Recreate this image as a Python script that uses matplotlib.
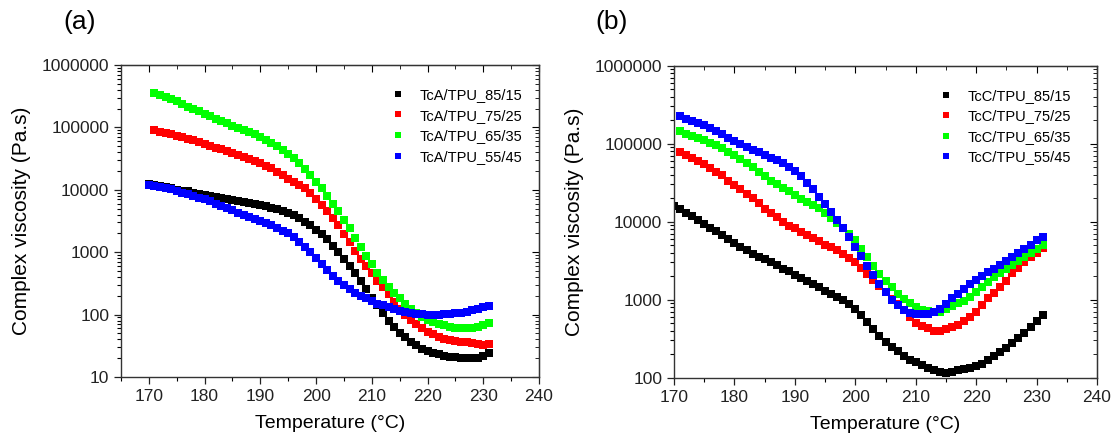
import numpy as np
import matplotlib
matplotlib.use("Agg")
import matplotlib.pyplot as plt
from matplotlib.ticker import FixedLocator, LogLocator, NullFormatter, MultipleLocator

plt.rcParams['font.family'] = ['Liberation Sans', 'DejaVu Sans']

# ---- panel (a): TcA/TPU blends ----
temp_a_long = np.arange(170, 232)   # black, blue
temp_a_short = np.arange(171, 232)  # red, green

tca_85_15 = [12500, 12000, 11400, 10900, 10500, 10100, 9700, 9400, 9000, 8700,
             8400, 8100, 7700, 7400, 7100, 6900, 6700, 6400, 6200, 6000,
             5700, 5500, 5200, 4900, 4600, 4300, 3900, 3500, 3100, 2700,
             2300, 1950, 1600, 1280, 1000, 780, 600, 460, 350, 255,
             185, 140, 105, 80, 63, 51, 43, 37, 32, 28,
             26, 24, 23, 22, 21, 21, 20.5, 20, 20, 20,
             22, 24]
tca_75_25 = [90000, 85000, 80000, 77000, 73000, 69000, 66000, 62000, 58000, 54000,
             51000, 47500, 45000, 42000, 39000, 36500, 34000, 31500, 29000, 26500,
             24000, 22000, 19500, 17000, 15000, 13500, 12000, 10500, 8800, 7200,
             5800, 4600, 3500, 2700, 1950, 1450, 1050, 780, 600, 460,
             350, 275, 210, 160, 122, 98, 82, 70, 60, 53,
             48, 44, 41, 39, 38, 37, 36, 35, 34, 33,
             34]
tca_65_35 = [360000, 335000, 310000, 285000, 262000, 240000, 215000, 196000, 180000, 165000,
             150000, 138000, 127000, 117000, 107000, 98000, 90000, 83000, 77000, 70000,
             63000, 57000, 50000, 43000, 37000, 32000, 27000, 21500, 17000, 13500,
             10500, 8000, 6000, 4500, 3300, 2400, 1700, 1200, 870, 640,
             470, 360, 280, 225, 182, 150, 125, 106, 93, 83,
             76, 71, 67, 64, 62, 61, 61, 62, 64, 67,
             72]
tca_55_45 = [12000, 11700, 11200, 10700, 10200, 9600, 9000, 8500, 8000, 7500,
             7000, 6500, 6000, 5500, 5100, 4700, 4300, 4000, 3700, 3400,
             3150, 2900, 2700, 2450, 2200, 2000, 1750, 1480, 1230, 990,
             800, 640, 510, 415, 350, 300, 260, 225, 200, 182,
             165, 150, 140, 130, 122, 116, 111, 107, 104, 102,
             100, 100, 100, 101, 103, 105, 108, 112, 117, 124,
             132, 137]

# ---- panel (b): TcC/TPU blends ----
temp_b_long = np.arange(170, 232)   # black
temp_b_short = np.arange(171, 232)  # red, green, blue

tcc_85_15 = [16000, 14500, 13000, 11800, 10500, 9300, 8300, 7500, 6700, 6000,
             5400, 4800, 4300, 3900, 3500, 3300, 3000, 2750, 2500, 2300,
             2100, 1900, 1750, 1600, 1450, 1300, 1180, 1090, 980, 870,
             760, 640, 520, 420, 340, 290, 250, 220, 190, 170,
             158, 145, 133, 124, 118, 116, 120, 124, 128, 134,
             142, 152, 170, 190, 215, 240, 280, 320, 375, 450,
             540, 630]
tcc_75_25 = [78000, 71000, 65000, 60000, 55000, 49000, 44000, 40000, 33000, 29500,
             26000, 22500, 20000, 17500, 14500, 13000, 11500, 9800, 8900, 8200,
             7400, 6700, 6100, 5600, 5100, 4700, 4300, 3900, 3400, 3050,
             2550, 2150, 1800, 1480, 1250, 1020, 870, 730, 600, 510,
             460, 430, 400, 395, 420, 450, 480, 530, 600, 700,
             860, 1050, 1230, 1450, 1750, 2200, 2550, 3000, 3500, 4000,
             4600]
tcc_65_35 = [145000, 135000, 127000, 118000, 110000, 102000, 95000, 87000, 79000, 71000,
             63000, 56000, 50000, 44000, 38000, 33500, 30000, 27000, 24500, 22000,
             19800, 18000, 16300, 15000, 13000, 11000, 9500, 8200, 7000, 5800,
             4500, 3500, 2700, 2150, 1750, 1450, 1200, 1020, 900, 800,
             740, 710, 700, 705, 760, 830, 900, 970, 1080, 1250,
             1450, 1700, 1950, 2200, 2500, 2800, 3100, 3500, 4000, 4500,
             5000]
tcc_55_45 = [225000, 210000, 196000, 183000, 172000, 158000, 145000, 133000, 120000, 108000,
             98000, 90000, 84000, 78000, 72000, 66000, 61000, 56000, 51000, 45000,
             38000, 31500, 26000, 21000, 17000, 13500, 10500, 8300, 6300, 4800,
             3600, 2700, 2050, 1580, 1250, 1000, 850, 740, 680, 660,
             650, 650, 690, 770, 880, 1050, 1200, 1380, 1570, 1780,
             2000, 2250, 2500, 2800, 3150, 3550, 4000, 4500, 5100, 5800,
             6400]

colors = ['#000000', '#ff0000', '#00ff00', '#0000ff']

fig = plt.figure(figsize=(11.13, 4.40), dpi=100)
ax_a = fig.add_axes([0.1087, 0.1432, 0.3756, 0.7091])
ax_b = fig.add_axes([0.6056, 0.1416, 0.3800, 0.7091])


def style_axis(ax, ymin, ymax, xmin, xmax):
    ax.set_yscale('log')
    ax.set_ylim(ymin, ymax)
    ax.set_xlim(xmin, xmax)
    decades = [10 ** k for k in range(int(np.log10(ymin)), int(np.log10(ymax)) + 1)]
    ax.yaxis.set_major_locator(FixedLocator(decades))
    ax.set_yticklabels([str(d) for d in decades])
    ax.yaxis.set_minor_locator(LogLocator(base=10, subs=np.arange(2, 10)))
    ax.yaxis.set_minor_formatter(NullFormatter())
    ax.xaxis.set_major_locator(MultipleLocator(10))
    ax.xaxis.set_minor_locator(MultipleLocator(5))
    ax.tick_params(which='major', direction='out', length=5, width=0.9, labelsize=12.5, colors='#222222')
    ax.tick_params(which='minor', direction='out', length=3, width=0.8)
    for sp in ax.spines.values():
        sp.set_linewidth(1.0)
        sp.set_color('#333333')
    top = ax.secondary_xaxis('top')
    top.xaxis.set_major_locator(MultipleLocator(10))
    top.xaxis.set_minor_locator(MultipleLocator(5))
    top.tick_params(which='both', direction='in', labeltop=False)
    top.tick_params(which='major', length=5)
    top.tick_params(which='minor', length=3)
    right = ax.secondary_yaxis('right')
    right.set_yscale('log')
    right.yaxis.set_major_locator(FixedLocator(decades))
    right.yaxis.set_minor_locator(LogLocator(base=10, subs=np.arange(2, 10)))
    right.tick_params(which='both', direction='in', labelright=False)
    right.tick_params(which='major', length=5)
    right.tick_params(which='minor', length=3)
    ax.set_xlabel('Temperature (°C)', fontsize=14, labelpad=8)
    ax.set_ylabel('Complex viscosity (Pa.s)', fontsize=15, labelpad=8)


ms = 5.6
ax_a.plot(temp_a_long, tca_85_15, 's', color=colors[0], ms=ms, mew=0, label='TcA/TPU_85/15')
ax_a.plot(temp_a_short, tca_75_25, 's', color=colors[1], ms=ms, mew=0, label='TcA/TPU_75/25')
ax_a.plot(temp_a_short, tca_65_35, 's', color=colors[2], ms=ms, mew=0, label='TcA/TPU_65/35')
ax_a.plot(temp_a_long, tca_55_45, 's', color=colors[3], ms=ms, mew=0, label='TcA/TPU_55/45')
style_axis(ax_a, 10, 1e6, 165, 240)

ax_b.plot(temp_b_long, tcc_85_15, 's', color=colors[0], ms=ms, mew=0, label='TcC/TPU_85/15')
ax_b.plot(temp_b_short, tcc_75_25, 's', color=colors[1], ms=ms, mew=0, label='TcC/TPU_75/25')
ax_b.plot(temp_b_short, tcc_65_35, 's', color=colors[2], ms=ms, mew=0, label='TcC/TPU_65/35')
ax_b.plot(temp_b_short, tcc_55_45, 's', color=colors[3], ms=ms, mew=0, label='TcC/TPU_55/45')
style_axis(ax_b, 100, 1e6, 170, 240)

for ax, loc in ((ax_a, (0.635, 0.945)), (ax_b, (0.615, 0.945))):
    ax.legend(loc='upper left', bbox_to_anchor=loc, frameon=False, fontsize=10.5,
              handlelength=0.8, handletextpad=1.1, labelspacing=0.45,
              markerscale=0.8, borderaxespad=0)

fig.text(80 / 1113, 1 - 22 / 440, '(a)', fontsize=19, ha='center', va='center')
fig.text(612 / 1113, 1 - 22 / 440, '(b)', fontsize=19, ha='center', va='center')

fig.savefig('out.png', dpi=100)
